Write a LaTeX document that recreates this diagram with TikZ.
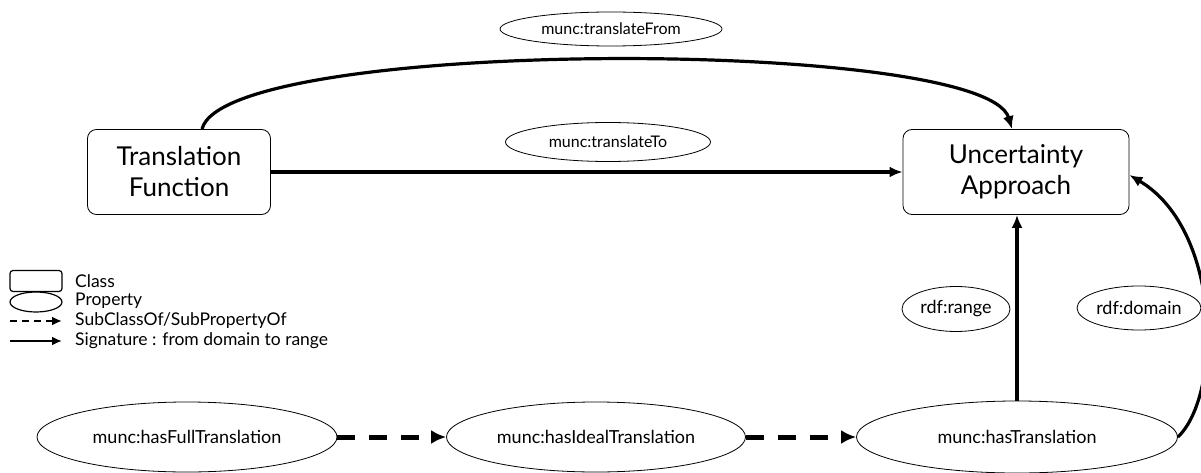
\documentclass[tikz,border=0pt]{standalone}
\usepackage{fontspec}
\setmainfont{Lato}
\usepackage{tikz}
\usetikzlibrary{shapes,positioning,arrows.meta}

\begin{document}
\begin{tikzpicture}
     [ x=1pt, y=-1pt,
       class/.style={draw, thick, rounded corners=9pt, align=center, inner sep=0pt,
         font=\fontsize{26}{31}\selectfont},
       prop/.style={draw, thick, ellipse, inner sep=0pt, font=\fontsize{18}{21}\selectfont},
       smallprop/.style={prop, font=\fontsize{16}{19}\selectfont},
       sig/.style={-{Latex[length=13pt,width=11pt]}, line width=3.2pt},
       subof/.style={-{Latex[length=15pt,width=14pt]}, line width=5pt, dash pattern=on 18pt off 14pt},
       legend/.style={font=\fontsize{17.5}{19}\selectfont, anchor=west, inner sep=0pt}]
   \useasboundingbox (0,0) rectangle (1201,473);
   % classes
   \node (TF) [class, minimum width=183pt, minimum height=85pt] at (179,172) {Translation\\Function};
   \node (UA) [class, minimum width=226pt, minimum height=85pt] at (1016,172) {Uncertainty\\Approach};
   % properties
   \node (hasFull) [prop, minimum width=300pt, minimum height=70pt] at (187,437) {munc:hasFullTranslation};
   \node (hasIdeal) [prop, minimum width=299pt, minimum height=70pt] at (596,437) {munc:hasIdealTranslation};
   \node (hasTrans) [prop, minimum width=321pt, minimum height=72pt] at (1017,437) {munc:hasTranslation};
   \node (tFrom) [smallprop, minimum width=222pt, minimum height=34pt] at (611,29) {munc:translateFrom};
   \node (tTo) [smallprop, minimum width=205pt, minimum height=39pt] at (608,142) {munc:translateTo};
   \node (range) [prop, minimum width=108pt, minimum height=45pt] at (956,309) {rdf:range};
   \node (domain) [prop, minimum width=124pt, minimum height=44pt] at (1139,308) {rdf:domain};
   % edges
   \draw[sig] ([xshift=23pt]TF.north) .. controls (225,37) and (985,37) .. ([xshift=-4pt]UA.north);
   \draw[sig] (TF.east) -- (UA.west);
   \draw[sig] (hasTrans.north) -- (hasTrans.north |- UA.south);
   \draw[sig] (hasTrans.east) .. controls (1222,395) and (1222,230) .. ([yshift=-3pt]UA.east);
   \draw[subof] (hasFull) -- (hasIdeal);
   \draw[subof] (hasIdeal) -- (hasTrans);
   % legend
   \node (lgClass) [draw, line width=1.2pt, rounded corners=3pt, minimum width=52pt, minimum height=21pt] at (36,281) {};
   \node (lgProp) [draw, line width=1.2pt, ellipse, minimum width=52pt, minimum height=20pt] at (36,302) {};
   \coordinate (lgSubA) at (10,321);
   \coordinate (lgSubB) at (62,321);
   \coordinate (lgSigA) at (10,341);
   \coordinate (lgSigB) at (62,341);
   \draw[-{Latex[length=10pt,width=9pt]}, line width=2pt, dash pattern=on 7pt off 5pt] (lgSubA) -- (lgSubB);
   \draw[-{Latex[length=10pt,width=9pt]}, line width=2pt] (lgSigA) -- (lgSigB);
   \node [legend] at (75,281) {Class};
   \node [legend] at (75,301) {Property};
   \node [legend] at (75,321) {SubClassOf/SubPropertyOf};
   \node [legend] at (75,341) {Signature : from domain to range};
\end{tikzpicture}
\end{document}
